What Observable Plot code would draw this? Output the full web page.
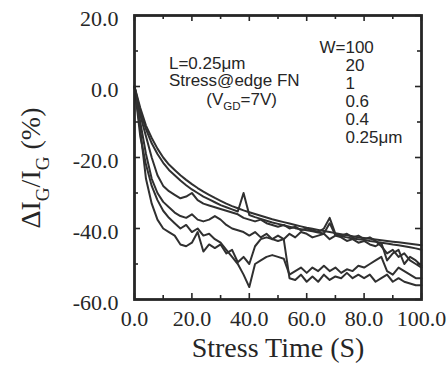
<!DOCTYPE html>
<html><head><meta charset="utf-8">
<script src="https://cdn.jsdelivr.net/npm/d3@7"></script>
<script src="https://cdn.jsdelivr.net/npm/@observablehq/plot@0.6"></script>
<style>
html,body{margin:0;padding:0;background:#fff;}
#chart svg{display:block;}
</style></head><body><div id="chart"></div>
<script>
// Stress time (s)
const time = [0,2,4,6,8,10,12,14,16,18,20,22,24,26,28,30,32,34,36,38,40,42,44,46,48,50,52,54,56,58,60,62,64,66,68,70,72,74,76,78,80,82,84,86,88,90,92,94,96,98,100];
// ΔIG/IG (%) for each gate width W
const w100 = [0,-6,-11,-14.5,-17.5,-20,-22,-23.5,-25,-26.3,-27.5,-28.6,-29.6,-30.5,-31.4,-32.2,-33,-33.7,-34.3,-34.9,-35.4,-35.9,-36.4,-36.9,-37.4,-37.8,-38.2,-38.6,-39,-39.4,-39.8,-40.1,-40.4,-40.7,-41,-41.3,-41.6,-41.9,-42.2,-42.5,-42.7,-42.9,-43.1,-43.3,-43.5,-43.7,-43.9,-44.1,-44.3,-44.5,-44.7];
const w20 = [0,-7,-12,-16,-19,-21.5,-23.5,-25,-26.5,-27.8,-29,-30,-31,-31.8,-32.6,-33.4,-34,-34.6,-35.2,-30,-36.2,-36.8,-37.3,-37.8,-38.3,-38.7,-39.1,-39.5,-39.9,-40.2,-40.5,-40.8,-41.1,-41.4,-38.5,-41.9,-42.2,-42.5,-42.8,-43,-43.2,-43.5,-43.7,-44,-44.2,-44.5,-44.7,-45,-45.3,-45.6,-46];
const w1 = [0,-8,-14,-20,-25,-28,-29.5,-30.5,-31.5,-31,-30,-32,-33,-33.5,-34,-34.5,-35,-35.5,-36,-37,-37.5,-38,-37.5,-38.5,-39,-39.5,-39,-40,-39.5,-40.5,-40,-40.5,-41,-40,-37,-41.5,-42,-41.5,-42.5,-42,-43,-42.5,-43.5,-45,-47,-46,-48,-47,-49,-50,-51];
const w06 = [0,-10,-19,-26,-30,-32.5,-34,-35.5,-36.5,-37,-36,-37.5,-38,-37.5,-36.5,-37.5,-39,-40,-40.5,-41,-42,-41,-42.5,-41.5,-43,-42,-43,-41.5,-42.5,-41,-41.5,-42.5,-42,-41.5,-43,-42,-42.5,-43.5,-43,-44,-43.5,-44.5,-45,-44,-49,-47,-46,-50,-48,-49,-50.5];
const w04 = [0,-14,-22,-28,-32,-35,-37,-38.5,-40,-39,-41,-40,-42,-41.5,-43,-44,-46,-48,-50,-53,-56.5,-50,-49,-48,-47.5,-48,-48.5,-53,-52,-51,-52.5,-51,-52,-50.5,-52,-51,-52.5,-51.5,-52,-50.5,-51,-50,-49,-48,-52,-53,-51,-52,-53,-54,-54];
const w025 = [0,-12,-26,-33,-37.5,-40,-41,-42,-44.5,-45,-44,-41,-46.5,-44.5,-45.5,-44.5,-47,-46,-49.5,-48,-50,-45,-43,-42.5,-43,-43.5,-43,-54,-54.5,-53,-55,-53.5,-55,-53,-54.5,-53.5,-54,-52.5,-54,-53,-54,-53,-55,-54,-53,-55,-54,-55,-55.5,-56,-56];
const widthLabels = ["100","20","1","0.6","0.4","0.25\u03BCm"];
const seriesValues = [w100, w20, w1, w06, w04, w025];

const xTicks = [0,20,40,60,80,100];
const xTickLabels = ["0.0","20.0","40.0","60.0","80.0","100.0"];
const xMinor = [10,30,50,70,90];
const yTicks = [20,0,-20,-40,-60];
const yTickLabels = ["20.0","0.0","-20.0","-40.0","-60.0"];
const yMinor = [10,-10,-30,-50];

const conditionLines = ["L=0.25\u03BCm","Stress@edge FN"];
const biasLine = "(V{GD}=7V)";
const xLabel = "Stress Time (S)";
const yLabel = "\u0394I{G}/I{G} (%)";

const rows = [];
seriesValues.forEach((vals, i) => vals.forEach((v, j) => rows.push({t: time[j], v, w: widthLabels[i]})));

const W = 448, H = 367, mL = 134, mR = 27, mT = 15, mB = 68;
const pW = W - mL - mR, pH = H - mT - mB;
const serif = "'Liberation Serif', serif";
const sans = "'Liberation Sans', sans-serif";
const ink = "#262626";

const plot = Plot.plot({
  width: W, height: H,
  marginLeft: mL, marginRight: mR, marginTop: mT, marginBottom: mB,
  style: {background: "#fff", color: ink},
  x: {domain: [0, 100], axis: null},
  y: {domain: [-60, 20], axis: null},
  marks: [
    Plot.line(rows, {x: "t", y: "v", z: "w", stroke: "#303030", strokeWidth: 2, strokeLinejoin: "round"}),
    // inward ticks on all four sides
    Plot.tickX(xTicks, {x: d => d, insetTop: pH - 6, stroke: ink, strokeWidth: 1.6}),
    Plot.tickX(xMinor, {x: d => d, insetTop: pH - 4, stroke: ink, strokeWidth: 1.6}),
    Plot.tickX(xTicks, {x: d => d, insetBottom: pH - 6, stroke: ink, strokeWidth: 1.6}),
    Plot.tickX(xMinor, {x: d => d, insetBottom: pH - 4, stroke: ink, strokeWidth: 1.6}),
    Plot.tickY(yTicks, {y: d => d, insetRight: pW - 6, stroke: ink, strokeWidth: 1.6}),
    Plot.tickY(yMinor, {y: d => d, insetRight: pW - 4, stroke: ink, strokeWidth: 1.6}),
    Plot.tickY(yTicks, {y: d => d, insetLeft: pW - 6, stroke: ink, strokeWidth: 1.6}),
    Plot.tickY(yMinor, {y: d => d, insetLeft: pW - 4, stroke: ink, strokeWidth: 1.6}),
    Plot.frame({stroke: ink, strokeWidth: 2.8}),
    // tick labels
    Plot.text(xTicks, {x: d => d, frameAnchor: "bottom", text: (d, i) => xTickLabels[i], dy: 11, lineAnchor: "top", fontSize: 22, fontFamily: serif, fill: ink}),
    Plot.text(yTicks, {y: d => d, frameAnchor: "left", text: (d, i) => yTickLabels[i], dx: -16, dy: 3, textAnchor: "end", fontSize: 22, fontFamily: serif, fill: ink}),
    // axis titles
    Plot.text([xLabel], {text: d => d, frameAnchor: "bottom", dy: 49, lineAnchor: "middle", fontSize: 28, fontFamily: serif, fill: ink}),
    Plot.text([yLabel], {text: d => d, frameAnchor: "left", dx: -100, dy: 11, rotate: -90, textAnchor: "start", lineAnchor: "middle", fontSize: 28, fontFamily: serif, fill: ink}),
    // annotations
    Plot.text(conditionLines, {x: 12, y: (d, i) => [6.5, 1.6][i], text: d => d, textAnchor: "start", lineAnchor: "middle", fontSize: 17, fontFamily: sans, fill: ink}),
    Plot.text([biasLine], {x: 25, y: -3.6, text: d => d, textAnchor: "start", lineAnchor: "middle", fontSize: 17, fontFamily: sans, fill: ink}),
    Plot.text(["W="], {x: 73.5, y: 11, text: d => d, textAnchor: "end", lineAnchor: "middle", fontSize: 17, fontFamily: sans, fill: ink}),
    Plot.text(widthLabels, {x: 73.5, y: (d, i) => 11 - i * 5.1, text: d => d, textAnchor: "start", lineAnchor: "middle", fontSize: 17, fontFamily: sans, fill: ink})
  ]
});

document.getElementById("chart").appendChild(plot);

// subscripts: {..} -> lowered, smaller tspans
d3.select(plot).selectAll("text").each(function() {
  const s = this.textContent;
  if (!s.includes("{")) return;
  const fs = parseFloat(getComputedStyle(this).fontSize) || 16;
  const parts = s.split(/(\{[^}]*\})/).filter(p => p.length);
  const el = d3.select(this);
  el.text(null);
  let shifted = false;
  const shift = fs * 0.3;
  parts.forEach(p => {
    if (p.startsWith("{")) {
      el.append("tspan").attr("dy", shifted ? 0 : shift).attr("font-size", fs * 0.68).text(p.slice(1, -1));
      shifted = true;
    } else {
      el.append("tspan").attr("dy", shifted ? -shift : 0).text(p);
      shifted = false;
    }
  });
  // the rotated axis title: centre its box on the frame's vertical middle (+11px), 34px from the left
  const tr = this.getAttribute("transform") || "";
  if (/rotate/.test(tr)) {
    const svgBox = plot.getBoundingClientRect();
    const r = this.getBoundingClientRect();
    const cx = r.left - svgBox.left + r.width / 2;
    const cy = r.top - svgBox.top + r.height / 2;
    const tx = 34 - cx, ty = (mT + pH / 2 + 11) - cy;
    this.setAttribute("transform", `translate(${tx},${ty}) ${tr}`);
  }
});
</script></body></html>
